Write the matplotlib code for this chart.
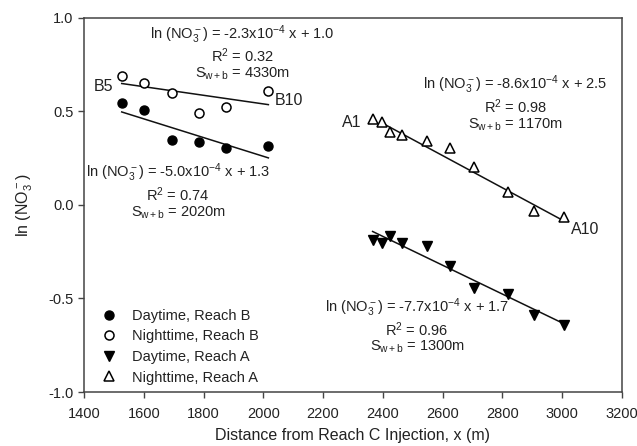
import numpy as np
import matplotlib
matplotlib.use('Agg')
import matplotlib.pyplot as plt

plt.rcParams['font.family'] = ['Liberation Sans', 'DejaVu Sans']
plt.rcParams['mathtext.fontset'] = 'custom'
plt.rcParams['mathtext.rm'] = 'Liberation Sans'
plt.rcParams['mathtext.it'] = 'Liberation Sans:italic'
plt.rcParams['mathtext.default'] = 'regular'

# sampling stations, distance from injection (m)
x_b = [1526, 1601, 1695, 1785, 1876, 2017]
x_a = [2366, 2398, 2424, 2463, 2547, 2625, 2705, 2820, 2907, 3006]

# ln(NO3-) at each station
day_b = [0.544, 0.508, 0.348, 0.335, 0.306, 0.317]
night_b = [0.691, 0.651, 0.597, 0.494, 0.526, 0.610]
day_a = [-0.187, -0.205, -0.166, -0.202, -0.219, -0.326, -0.445, -0.476, -0.588, -0.642]
night_a = [0.460, 0.442, 0.392, 0.374, 0.342, 0.303, 0.205, 0.068, -0.030, -0.066]

# linear fits (slope, intercept)
fit_night_b = (-2.3e-4, 1.0)
fit_day_b = (-5.0e-4, 1.26)
fit_night_a = (-8.6e-4, 2.5)
fit_day_a = (-7.7e-4, 1.68)

txt = '#222222'
fs = 10.5

fig = plt.figure(figsize=(6.37, 4.46), dpi=100)
ax = fig.add_axes([0.132, 0.121, 0.844, 0.839])

def fit_line(xs, fit, x0=None):
    lo = xs[0] if x0 is None else x0
    t = np.array([lo, xs[-1]])
    ax.plot(t, fit[0] * t + fit[1], color='#111111', lw=1.1, zorder=2)

fit_line(x_b, fit_night_b)
fit_line(x_b, fit_day_b)
fit_line(x_a, fit_night_a, x0=2398)
fit_line(x_a, fit_day_a)

ax.plot(x_b, day_b, 'o', ms=6.5, mfc='black', mec='black', label='Daytime, Reach B', zorder=3)
ax.plot(x_b, night_b, 'o', ms=6.5, mfc='white', mec='black', mew=1.1, label='Nighttime, Reach B', zorder=3)
ax.plot(x_a, day_a, 'v', ms=7, mfc='black', mec='black', label='Daytime, Reach A', zorder=3)
ax.plot(x_a, night_a, '^', ms=7, mfc='white', mec='black', mew=1.1, label='Nighttime, Reach A', zorder=3)

def eq_block(x, y, slope, icpt, r2, s):
    ax.text(x, y, r'ln (NO$_3^-$) = %.1fx10$^{-4}$ x + %.1f' % (slope * 1e4, icpt),
            ha='center', va='center', fontsize=fs, color=txt)
    ax.text(x, y - 0.115, r'R$^2$ = %.2f' % r2, ha='center', va='center', fontsize=fs, color=txt)
    ax.text(x, y - 0.21, r'S$_{w+b}$ = %dm' % s, ha='center', va='center', fontsize=fs, color=txt)

eq_block(1930, 0.91, -2.3e-4, 1.0, 0.32, 4330)
eq_block(1715, 0.17, -5.0e-4, 1.3, 0.74, 2020)
eq_block(2845, 0.64, -8.6e-4, 2.5, 0.98, 1170)
eq_block(2515, -0.55, -7.7e-4, 1.7, 0.96, 1300)

ax.text(1497, 0.635, 'B5', ha='right', va='center', fontsize=11.5, color=txt)
ax.text(2040, 0.56, 'B10', ha='left', va='center', fontsize=11.5, color=txt)
ax.text(2330, 0.44, 'A1', ha='right', va='center', fontsize=11.5, color=txt)
ax.text(3030, -0.13, 'A10', ha='left', va='center', fontsize=11.5, color=txt)

ax.set_xlim(1400, 3200)
ax.set_ylim(-1.0, 1.0)
ax.set_xticks(np.arange(1400, 3201, 200))
ax.set_yticks([-1.0, -0.5, 0.0, 0.5, 1.0])
ax.yaxis.set_major_formatter(matplotlib.ticker.FormatStrFormatter('%.1f'))
ax.tick_params(direction='out', length=4, width=1, colors='#444444', labelcolor=txt, labelsize=fs)
ax.tick_params(axis='x', pad=7)
for sp in ax.spines.values():
    sp.set_color('#444444')
    sp.set_linewidth(1.1)

ax.set_xlabel('Distance from Reach C Injection, x (m)', fontsize=11.5, color=txt, labelpad=5)
ax.set_ylabel(r'ln (NO$_3^-$)', fontsize=11.5, color=txt, labelpad=10)

ax.legend(loc='lower left', bbox_to_anchor=(-0.005, -0.015), frameon=False, fontsize=fs,
          handletextpad=0.6, labelspacing=0.45, labelcolor=txt)

fig.savefig('out.png', dpi=100)
